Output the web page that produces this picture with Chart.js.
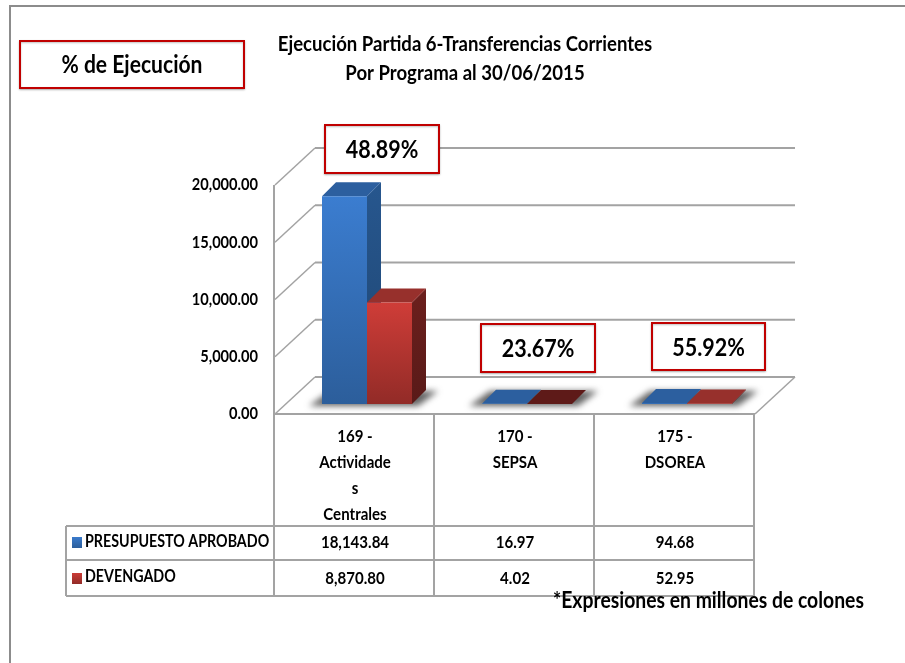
<!DOCTYPE html>
<html>
<head>
<meta charset="utf-8">
<title>Ejecución Partida 6</title>
<script src="https://cdn.jsdelivr.net/npm/chart.js@4"></script>
<style>html,body{margin:0;padding:0;background:#fff}canvas{display:block}</style>
</head>
<body>
<canvas id="c" width="905" height="663"></canvas>
<script>
const categories = [["169 -","Actividade","s","Centrales"],["170 -","SEPSA"],["175 -","DSOREA"]];
const seriesNames = ["PRESUPUESTO APROBADO","DEVENGADO"];
const presupuesto = [18143.84, 16.97, 94.68];
const devengado = [8870.80, 4.02, 52.95];
const percentLabels = ["48.89%","23.67%","55.92%"];
const titleLines = ["Ejecución Partida 6-Transferencias Corrientes","Por Programa al 30/06/2015"];
const headerLabel = "% de Ejecución";
const footnote = "*Expresiones en millones de colones";

const FONT = 'Lato,"Liberation Sans",sans-serif';
const TEXT_SQUEEZE = 0.86;
const GRID = '#a3a3a3', RED = '#c00000';
const BACK = {dx:40, dy:-37}, PLANE = {dx:12, dy:-10}, DEPTH = {dx:14, dy:-14};
const FACES = [
  {front:['#3b7dd0','#2c5e9b'], side:['#27578f','#1f4672'], top:['#2c5f9f','#2c5f9f','#2c5f9f']},
  {front:['#cf3d38','#922b27'], side:['#7e2522','#591a18'], top:['#97302c','#5e1a18','#97302c']}
];
const PCT_BOXES = [[325,125,114,48],[481,324,114,48],[652,323,113,47]];
const fmt = v => v.toLocaleString('en-US',{minimumFractionDigits:2,maximumFractionDigits:2});

// The reference text is horizontally condensed; every label goes through this.
const canvas = document.getElementById('c');
const rawCtx = canvas.getContext('2d');
const rawFillText = rawCtx.fillText.bind(rawCtx);
rawCtx.fillText = function(t,x,y){
  rawCtx.save(); rawCtx.translate(x,y); rawCtx.scale(TEXT_SQUEEZE,1);
  rawFillText(t,0,0); rawCtx.restore();
};

function frontGradient(ctx, i){
  const a = ctx.chart.chartArea, ys = ctx.chart.scales.y;
  if(!a || !ys || ctx.raw === undefined) return FACES[i].front[0];
  const top = ys.getPixelForValue(ctx.raw), bottom = ys.getPixelForValue(0);
  if(!Number.isFinite(top) || !Number.isFinite(bottom)) return FACES[i].front[0];
  const g = ctx.chart.ctx.createLinearGradient(0,top,0,bottom);
  g.addColorStop(0,FACES[i].front[0]); g.addColorStop(1,FACES[i].front[1]);
  return g;
}
function poly(c, pts, fill){
  c.beginPath(); pts.forEach((p,i)=> i? c.lineTo(p[0],p[1]) : c.moveTo(p[0],p[1]));
  c.closePath(); c.fillStyle = fill; c.fill();
}
function line(c,x0,y0,x1,y1,col,w){
  c.beginPath(); c.moveTo(x0,y0); c.lineTo(x1,y1); c.strokeStyle=col; c.lineWidth=w; c.stroke();
}
function redBox(c,b,text,size){
  c.save();
  c.shadowColor='rgba(0,0,0,.25)'; c.shadowBlur=2; c.shadowOffsetY=1;
  c.fillStyle='#fff'; c.fillRect(b[0],b[1],b[2],b[3]);
  c.strokeStyle=RED; c.lineWidth=2; c.strokeRect(b[0],b[1],b[2],b[3]);
  c.restore();
  c.fillStyle='#000'; c.font='bold '+size+'px '+FONT; c.textAlign='center'; c.textBaseline='middle';
  c.fillText(text,b[0]+b[2]/2,b[1]+b[3]/2+1);
}

const scene = {
  id:'scene',
  beforeDraw(chart){
    const c=chart.ctx, a=chart.chartArea, y=chart.scales.y;
    c.save();
    c.fillStyle='#fff'; c.fillRect(0,0,chart.width,chart.height);
    line(c,10,6,905,6,'#8c8c8c',2); line(c,10,5,10,663,'#8c8c8c',2);
    y.ticks.forEach(t=>{
      const py=y.getPixelForValue(t.value);
      line(c,a.left,py,a.left+BACK.dx,py+BACK.dy,GRID,1.5);
      line(c,a.left+BACK.dx,py+BACK.dy,a.right+BACK.dx,py+BACK.dy,GRID,2);
    });
    line(c,a.left-1,a.top,a.left-1,a.bottom,GRID,2);
    line(c,a.left-1,a.bottom,a.right,a.bottom,GRID,2);
    line(c,a.right,a.bottom,a.right+BACK.dx,a.bottom+BACK.dy,GRID,1.5);
    c.restore();
  },
  beforeDatasetsDraw(chart){
    const c=chart.ctx, y=chart.scales.y;
    c.save();
    c.translate(PLANE.dx,PLANE.dy);
    const base=y.getPixelForValue(0);
    const m0=chart.getDatasetMeta(0).data, m1=chart.getDatasetMeta(1).data;
    m0.forEach((b,i)=>{
      const r=m1[i], l=b.x-b.width/2, rt=r.x+r.width/2;
      c.save(); c.filter='blur(3px)';
      poly(c,[[l-13,base+2],[rt+6,base+2],[rt+DEPTH.dx+12,base+DEPTH.dy+1],[l+DEPTH.dx-6,base+DEPTH.dy+1]],'rgba(60,60,60,.8)');
      c.restore();
    });
    [m0,m1].forEach((m,s)=>m.forEach((b,i)=>{
      const l=b.x-b.width/2, rt=b.x+b.width/2, tp=b.y, d=DEPTH;
      const g=c.createLinearGradient(0,chart.chartArea.top,0,base);
      g.addColorStop(0,FACES[s].side[0]); g.addColorStop(1,FACES[s].side[1]);
      poly(c,[[rt,tp],[rt+d.dx,tp+d.dy],[rt+d.dx,base+d.dy],[rt,base]],g);
      poly(c,[[l,tp],[rt,tp],[rt+d.dx,tp+d.dy],[l+d.dx,tp+d.dy]],FACES[s].top[i]);
    }));
    c.restore();
  },
  beforeDatasetDraw(chart){ chart.ctx.save(); chart.ctx.translate(PLANE.dx,PLANE.dy); },
  afterDatasetDraw(chart){ chart.ctx.restore(); },
  afterDraw(chart){
    const c=chart.ctx, a=chart.chartArea, x=chart.scales.x;
    const cw=a.width/categories.length, L=a.left-1;
    const rows=[526,560,596], tableLeft=66, rowText=[542,578];
    c.save();
    // data table
    rows.forEach(r=>line(c,tableLeft,r,a.right-1,r,GRID,2));
    line(c,tableLeft,rows[0],tableLeft,rows[2],GRID,2);
    for(let i=0;i<=categories.length;i++){ const px=L+i*cw; line(c,px,a.bottom,px,rows[2],GRID,2); }
    [presupuesto,devengado].forEach((vals,s)=>{
      const ty=rowText[s];
      const g=c.createLinearGradient(0,ty-6,0,ty+6);
      g.addColorStop(0,FACES[s].front[0]); g.addColorStop(1,FACES[s].front[1]);
      c.fillStyle=g; c.fillRect(72,ty-5,10,11);
      c.fillStyle='#000'; c.textBaseline='middle';
      c.font='bold 16.6px '+FONT; c.textAlign='left'; c.fillText(seriesNames[s],85,ty-(s?1:0));
      c.font='bold 17.5px '+FONT; c.textAlign='center';
      vals.forEach((v,i)=>c.fillText(fmt(v),x.getPixelForTick(i),ty));
    });
    // annotation boxes
    redBox(c,[20,41,224,47],headerLabel,24.5);
    percentLabels.forEach((t,i)=>redBox(c,PCT_BOXES[i],t,25));
    c.fillStyle='#000'; c.font='bold 22.5px '+FONT; c.textAlign='left'; c.textBaseline='middle';
    c.fillText(footnote,553,601);
    c.restore();
  }
};

new Chart(canvas,{
  type:'bar',
  data:{labels:categories,datasets:[
    {label:seriesNames[0],data:presupuesto,backgroundColor:ctx=>frontGradient(ctx,0),categoryPercentage:0.5625,barPercentage:1,borderWidth:0},
    {label:seriesNames[1],data:devengado,backgroundColor:ctx=>frontGradient(ctx,1),categoryPercentage:0.5625,barPercentage:1,borderWidth:0}
  ]},
  plugins:[scene],
  options:{
    responsive:false,animation:false,devicePixelRatio:1,
    layout:{padding:{left:175,right:150,top:0,bottom:0}},
    plugins:{
      legend:{display:false},tooltip:{enabled:false},
      title:{display:true,text:titleLines,color:'#000',font:{family:FONT,size:21.6,weight:'bold',lineHeight:29/21.6},padding:{top:30,bottom:97}}
    },
    scales:{
      x:{grid:{display:false},border:{display:false},
        afterFit(s){s.height=249;},
        ticks:{color:'#000',font:{family:FONT,size:17.5,weight:'bold',lineHeight:26/17.5},padding:1,autoSkip:false,maxRotation:0,minRotation:0}},
      y:{min:0,max:20000,grid:{display:false},border:{display:false},
        afterFit(s){s.width=100;},
        ticks:{stepSize:5000,color:'#000',font:{family:FONT,size:17,weight:'bold'},padding:9,callback:v=>fmt(v)}}
    }
  }
});
</script>
</body>
</html>
